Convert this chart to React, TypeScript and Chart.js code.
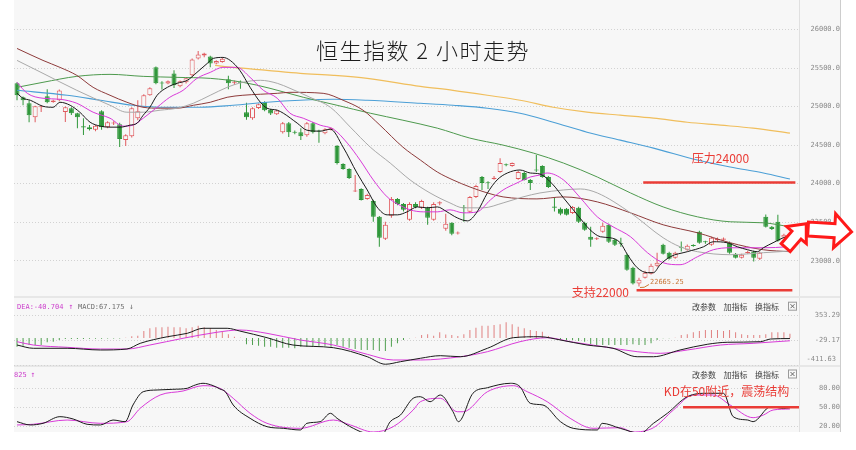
import React, { useEffect, useRef } from 'react';
import { Chart, registerables } from 'chart.js';

Chart.register(...registerables);

// ---------------- data ----------------
const OPEN = [25302,25121,25043,24862,24990,25134,25060,25082,24930,24979,
24914,24745,24733,24700,24940,24733,24782,24772,24565,24616,
24849,24991,25147,25509,25312,25300,25430,25263,25315,25405,
25625,25664,25651,25560,25580,25354,25308,25322,24927,24849,
24980,25060,24960,24900,24668,24785,24674,24668,24629,24785,
24686,24655,24700,24487,24254,24190,23898,23931,23802,23776,
23569,23285,23582,23802,23737,23530,23737,23686,23686,23530,
23743,23414,23492,23353,23692,23634,23828,24086,24017,24060,
24151,24252,24229,24060,24138,24048,24182,24229,24086,23702,
23673,23673,23620,23686,23492,23311,23278,23375,23466,23272,
23227,23078,22910,22703,22780,22832,22936,23207,23104,23039,
23182,23142,23202,23375,23252,23207,23265,23272,23233,23091,
23039,23100,23117,23026,23569,23440,23505,23300,23207];
const HIGH = [25315,25130,25082,25010,25010,25224,25090,25220,25000,24990,
24920,24850,24760,24760,24953,24810,24810,24790,24640,24990,
25082,25160,25250,25520,25330,25340,25470,25340,25380,25625,
25720,25700,25660,25600,25630,25400,25340,25340,25050,24990,
25040,25070,24970,24960,24800,24800,24690,24720,24800,24800,
24700,24720,24730,24500,24265,24200,24112,23940,23870,23790,
23580,23505,23828,23815,23750,23760,23760,23790,23700,23760,
23770,23608,23500,23380,23724,23840,23985,24100,24030,24100,
24330,24260,24275,24165,24150,24060,24371,24240,24100,23815,
23690,23685,23710,23700,23505,23440,23305,23492,23480,23285,
23298,23091,22923,22780,22870,22960,23104,23220,23115,23115,
23250,23210,23215,23390,23260,23310,23300,23300,23250,23100,
23090,23130,23130,23117,23600,23450,23595,23350,23280];
const LOW = [25082,25017,24797,24797,24930,25043,25050,25070,24800,24890,
24720,24630,24690,24680,24700,24720,24760,24474,24487,24600,
24823,24980,25140,25290,25220,25290,25240,25250,25300,25390,
25610,25640,25509,25550,25570,25224,25280,25230,24830,24830,
24970,24940,24890,24890,24650,24604,24640,24565,24610,24650,
24530,24640,24690,24250,24180,24060,23890,23780,23790,23505,
23181,23270,23556,23720,23640,23520,23680,23670,23466,23520,
23720,23390,23330,23340,23505,23620,23815,23918,23930,24050,
24140,24225,24220,24050,24040,23918,24150,24075,23945,23640,
23590,23585,23605,23490,23390,23181,23270,23362,23230,23190,
23181,22870,22690,22665.25,22770,22820,22920,23080,23015,23025,
23120,23130,23180,23220,23220,23195,23250,23255,23090,23030,
23030,23090,22990,23010,23430,23400,23246,23290,23190];
const CLOSE = [25147,25082,24888,25004,25000,25056,25080,25210,24990,24914,
24862,24730,24707,24750,24733,24797,24795,24578,24629,24979,
24940,25147,25237,25302,25300,25330,25276,25328,25366,25612,
25677,25690,25560,25590,25620,25302,25322,25308,24862,24979,
25030,24953,24910,24950,24785,24668,24662,24616,24785,24668,
24676,24707,24720,24267,24190,24073,23912,23789,23854,23569,
23298,23466,23802,23737,23660,23737,23698,23776,23556,23737,
23757,23479,23349,23367,23680,23828,23970,24009,24005,24078,
24267,24238,24267,24151,24048,24009,24170,24086,23957,23688,
23608,23595,23698,23505,23401,23272,23292,23453,23246,23207,
23215,22884,22703,22754,22845,22936,22974,23091,23026,23104,
23168,23194,23190,23233,23240,23298,23282,23287,23104,23039,
23078,23112,23039,23104,23440,23410,23259,23336,23259];

// moving averages: [candle index, value]
const MA5: [number, number][] = [[0,25172],[1,25108],[2.2,25082],[4.3,25004],[6,24991],[7.1,25056],[8.8,25017],[10.4,24927],[12.1,24797],[13.8,24746],[15.4,24733],[17.1,24733],[18.7,24759],[19.9,24785],[20.9,24888],[22,24991],[23.2,25147],[24.9,25250],[26.5,25302],[28.2,25341],[29.8,25444],[31.5,25560],[32.5,25625],[34.1,25638],[35.3,25599],[36.9,25470],[38.6,25250],[40.3,25056],[41.4,24979],[43.1,24953],[44.1,24914],[46.4,24785],[48,24694],[50.2,24681],[51.9,24707],[54,24474],[56.3,24138],[58,23918],[59.6,23698],[61.3,23595],[63,23595],[64.6,23634],[66.3,23698],[67.9,23686],[69.6,23698],[71.2,23634],[72.9,23556],[74.6,23517],[76.2,23634],[77.9,23879],[79.5,24048],[81.2,24138],[83.3,24177],[85,24138],[86.6,24125],[88.8,23983],[90.5,23815],[92.8,23595],[94.9,23401],[96.6,23311],[98.2,23298],[99.9,23233],[101.1,23078],[102.7,22910],[104.4,22845],[105.4,22845],[106.5,22948],[108.2,23052],[111,23117],[113.7,23181],[115.3,23246],[117.6,23233],[119.3,23181],[121,23142],[122.6,23117],[123.6,23168],[125.2,23233],[126.9,23298],[128,23323]];
const MA10: [number, number][] = [[0,25315],[1.7,25172],[4.3,25108],[7.1,25095],[9.9,25043],[12.6,24927],[15.4,24849],[17.6,24746],[19.2,24759],[20.9,24849],[23.2,24991],[25.3,25121],[27.5,25211],[29.8,25366],[32,25444],[34.1,25509],[36.4,25509],[38.6,25379],[40.8,25211],[43.1,25108],[45.2,24914],[47.4,24849],[50.2,24759],[52.4,24707],[54.7,24526],[56.8,24306],[59,24048],[61.3,23828],[63,23737],[65.1,23660],[67.3,23634],[69.6,23634],[71.7,23660],[73.9,23621],[76.2,23634],[78.4,23789],[80.5,23918],[82.8,24009],[85,24086],[86.6,24112],[87.8,24138],[90.5,24048],[93.3,23815],[96.1,23569],[98.7,23440],[101.6,23311],[104.4,23104],[107,22974],[109.8,22948],[112.7,23052],[115.3,23142],[118.1,23168],[123.6,23168],[127.6,23181],[128,23185]];
const MA20: [number, number][] = [[0,25599],[4.3,25431],[9.9,25211],[15.4,25017],[18.2,24927],[20.9,24927],[23.7,24953],[26.5,24979],[29.2,25043],[32,25147],[34.8,25250],[37.4,25315],[40.3,25341],[43.1,25302],[45.2,25237],[48.5,25121],[51.9,24991],[55.2,24733],[58.5,24474],[61.8,24267],[65.1,24048],[68.4,23879],[71.7,23750],[73.9,23686],[77.2,23686],[80.5,23750],[83.8,23828],[86.6,23879],[90.5,23918],[93.3,23931],[96.1,23879],[101.6,23621],[107,23298],[109.8,23181],[112.7,23117],[118.1,23078],[123.6,23104],[128,23125]];
const MA30: [number, number][] = [[0,25754],[4.3,25599],[7.1,25509],[9.9,25405],[12.6,25250],[15.4,25147],[18.2,25056],[20.9,24991],[23.7,24979],[26.5,24979],[29.2,25017],[32,25056],[34.8,25121],[37.4,25147],[40.3,25160],[43.1,25172],[45.2,25185],[50.7,25172],[54,25082],[57.3,24953],[60.1,24759],[63.9,24474],[66.8,24306],[69.6,24151],[72.2,24048],[75,23957],[77.9,23879],[80.5,23828],[86.1,23802],[90.5,23828],[96.1,23763],[101.6,23621],[107,23466],[112.7,23362],[118.1,23233],[123.6,23142],[128,23117]];
const MA60: [number, number][] = [[0,25250],[4.3,25315],[9.9,25392],[15.4,25418],[20.9,25392],[26.5,25379],[32,25366],[37.4,25315],[41.9,25237],[47.4,25121],[53,25017],[58.5,24914],[63.9,24823],[69.6,24720],[75,24591],[80.5,24500],[85.5,24397],[90.5,24267],[96.1,24086],[101.6,23879],[107,23698],[112.7,23569],[118.1,23505],[123.6,23492],[128,23440]];
const MA120: [number, number][] = [[0,25211],[8.3,25147],[13.8,25082],[19.2,25017],[24.9,24991],[30.3,24991],[35.8,25017],[41.4,25056],[46.9,25082],[52.4,25095],[58,25082],[66.8,25043],[72.2,25017],[77.9,24979],[83.3,24914],[88.8,24797],[94.4,24668],[99.9,24565],[105.4,24461],[112.7,24306],[118.1,24216],[123.6,24138],[128,24060]];
const MA250: [number, number][] = [[32.8,25535],[35.8,25509],[41.4,25470],[46.9,25431],[52.4,25405],[58,25366],[66.8,25263],[72.2,25211],[77.9,25147],[83.3,25082],[88.8,24991],[94.4,24927],[99.9,24888],[105.4,24849],[111,24797],[116.5,24759],[121.9,24720],[128,24655]];

const MACD_HIST = [
-131,-116,-106,-106,-106,-64,-55,-29,-14,-14,
-14,-14,-10,-10,-10,-8,-8,-6,5,30,
37,108,150,165,165,175,165,165,150,165,
190,165,150,124,108,58,20,5,-95,-106,
-116,-131,-131,-147,-147,-147,-157,-131,-131,-131,
-116,-116,-131,-106,-131,-147,-167,-182,-182,-182,
-197,-197,-131,-80,-29,-4,6,47,58,37,
89,55,47,33,58,124,160,190,190,200,
211,242,211,175,150,124,108,98,33,-4,
-29,-29,-29,-44,-55,-95,-106,-106,-106,-106,
-106,-106,-95,-106,-106,-80,-29,-4,-4,6,
47,58,89,108,124,124,124,108,124,89,
58,47,47,47,58,89,89,89,67];
const DIF: [number, number][] = [[0,-106],[2.7,-156],[8.3,-156],[13.8,-182],[18.2,-167],[20.4,-80],[24.9,21],[28.2,73],[30.8,150],[34.8,150],[36.9,108],[41.4,6],[45.7,-106],[52.4,-147],[58,-285],[61,-400],[63.5,-361],[66.8,-309],[70.1,-269],[73.4,-285],[77.9,-156],[82.2,6],[86.6,21],[90,-29],[94.4,-106],[98.7,-156],[102.7,-285],[105.4,-285],[109.8,-182],[114.3,-95],[117.6,-64],[123.1,-55],[124.8,-14],[128,-7]];
const DEA: [number, number][] = [[0,-55],[2.7,-106],[8.3,-141],[13.8,-167],[18.2,-167],[22,-106],[27.5,-3],[33.1,89],[36.9,124],[41.4,73],[46.9,-29],[52.4,-106],[58,-248],[62.3,-335],[66.8,-335],[73.4,-285],[77.9,-208],[83.3,-55],[87.8,6],[91.6,-55],[97.1,-132],[102.7,-208],[106.5,-233],[111,-182],[116.5,-106],[121.9,-80],[128,-41]];
const K_LINE: [number, number][] = [[0,27.3],[2.2,22.1],[4.3,24.7],[7.1,35.2],[9.3,31.5],[11.6,23.2],[13.8,22.1],[15.9,29.9],[17.9,27.3],[19.2,53.6],[20.9,74.6],[23.2,77.3],[25.8,78.4],[28.2,80],[29.2,84.1],[30.8,87.9],[32.5,84.1],[33.6,78.9],[34.5,74.6],[35.8,53.6],[38.6,32.6],[41.4,19.4],[44.1,16.8],[46.9,14.2],[48,24.7],[50.2,27.3],[51.9,40.5],[53,32.6],[55.7,16.8],[58,9],[60.6,9],[61.8,27.3],[63.5,37.8],[65.6,64.2],[66.8,66.7],[68.4,58.8],[70.1,69.4],[72.2,43],[73.1,27.3],[75.5,72.1],[77.9,80.9],[81.7,87.9],[83.3,82.5],[85,56.3],[87.1,53.6],[90,27.3],[92.1,16.8],[96.1,14.2],[96.9,24.7],[99.9,16.8],[103.2,9],[105.4,24.7],[107.7,40.5],[111,66.7],[114.3,72.1],[117,72.1],[118.6,35.2],[121,29.9],[121.9,27.3],[124.8,50.9],[126.9,48.4],[128,49.4]];
const D_LINE: [number, number][] = [[0,22.1],[2.7,23.2],[8.3,29.9],[13.8,24.7],[18.2,27.3],[20.4,48.4],[23.7,69.4],[27.5,75.7],[30.8,84.1],[33.6,80],[35.8,64.2],[38.6,40.5],[41.4,24.7],[46.9,16.8],[52.4,29.9],[55.2,22.1],[59,11],[62.3,19.4],[65.6,45.7],[66.8,58.8],[70.1,64.2],[72.9,43],[73.9,43],[77.9,74.6],[82.2,84.1],[84.5,74.6],[87.8,58.8],[91.6,32.6],[95.4,16.8],[99.9,17.8],[102,11],[105.4,17.8],[108.7,45.7],[112,69.4],[115.3,69.4],[118.1,53.6],[121.9,33.6],[123.6,37.8],[125.2,45.7],[128,47.3]];

const PRICE_TICKS = [23000, 23500, 24000, 24500, 25000, 25500, 26000];
const MACD_TICKS = [353.29, -29.17, -411.63];
const KD_TICKS = [80, 50, 20];

const RESIST_LEVEL = 24015;
const SUPPORT_LEVEL = 22616;
const KD_LEVEL = 50;
const LOW_INDEX = 103;
const LOW_VALUE = 22665.25;

const TITLE = '恒生指数 2 小时走势';
const RESIST_TEXT = '压力24000';
const SUPPORT_TEXT = '支持22000';
const KD_NOTE = 'KD在50附近，震荡结构';
const DEA_TEXT = 'DEA:-40.704';
const MACD_TEXT = 'MACD:67.175';
const KD_HEAD = '825';
const MENU = ['改参数', '加指标', '换指标'];

// ---------------- styles ----------------
const BG = '#f7f7f7';
const SEP = '#e7e7e7';
const GRID = '#d2d2d2';
const TICK_COLOR = '#8a8a8a';
const UP = '#e05a5e';
const DOWN = '#2f973a';
const HIST_UP = '#e08080';
const HIST_DOWN = '#4f9f4f';
const NOTE_RED = '#ea3c36';
const ARROW_RED = '#ff1a1a';
const MAGENTA = '#cc3fcc';
const CJK = '"Noto Sans CJK SC", "Noto Sans", sans-serif';
const MONO = '"DejaVu Sans Mono", "Liberation Mono", monospace';
const TICK_SIZE = 7;
const AXIS_W = 41;
const LABEL_RIGHT = 37;

function labelPad(labels: string[]) {
  const c = document.createElement('canvas').getContext('2d') as CanvasRenderingContext2D;
  c.font = `normal ${TICK_SIZE}px ${MONO}`;
  const w = Math.max(...labels.map((l) => c.measureText(l).width));
  return LABEL_RIGHT - w;
}

function xAxis() {
  return { type: 'linear', min: -0.5, max: CLOSE.length + 0.5, offset: false, display: false, grid: { display: false } };
}

function yAxis(min: number, max: number, ticks: number[], fmt: (v: number) => string) {
  const pad = labelPad(ticks.map(fmt).filter((s) => s));
  return {
    type: 'linear', position: 'right', min, max, bounds: 'data',
    afterBuildTicks: (s: any) => { s.ticks = ticks.map((v) => ({ value: v })); },
    afterFit: (s: any) => { s.width = AXIS_W; s.paddingTop = 0; s.paddingBottom = 0; },
    grid: { color: GRID, lineWidth: 1, drawTicks: false },
    border: { display: false, dash: [1, 2] },
    ticks: { autoSkip: false, crossAlign: 'far', padding: pad, color: TICK_COLOR, font: { family: MONO, size: TICK_SIZE }, callback: (v: any) => fmt(Number(v)) },
  };
}

const line = (pairs: [number, number][], color: string, order: number, width = 1) => ({
  type: 'line', data: pairs.map(([x, y]) => ({ x, y })), borderColor: color, borderWidth: width,
  pointRadius: 0, pointHoverRadius: 0, fill: false, cubicInterpolationMode: 'monotone', order,
});

function vline(ctx: CanvasRenderingContext2D, x: number, y0: number, y1: number, color: string) {
  ctx.strokeStyle = color; ctx.lineWidth = 1; ctx.setLineDash([]);
  ctx.beginPath(); ctx.moveTo(x, y0); ctx.lineTo(x, y1); ctx.stroke();
}
function hline(ctx: CanvasRenderingContext2D, x0: number, x1: number, y: number, color: string, w: number) {
  ctx.strokeStyle = color; ctx.lineWidth = w; ctx.setLineDash([]);
  ctx.beginPath(); ctx.moveTo(x0, y); ctx.lineTo(x1, y); ctx.stroke();
}
function drawArrow(ctx: CanvasRenderingContext2D, x0: number, y0: number, x1: number, y1: number, shaftW: number, headW: number, headL: number) {
  const dx = x1 - x0, dy = y1 - y0, L = Math.hypot(dx, dy);
  const ux = dx / L, uy = dy / L, nx = -uy, ny = ux;
  const bx = x1 - ux * headL, by = y1 - uy * headL;
  const pts = [
    [x0 + nx * shaftW / 2, y0 + ny * shaftW / 2],
    [bx + nx * shaftW / 2, by + ny * shaftW / 2],
    [bx + nx * headW / 2, by + ny * headW / 2],
    [x1, y1],
    [bx - nx * headW / 2, by - ny * headW / 2],
    [bx - nx * shaftW / 2, by - ny * shaftW / 2],
    [x0 - nx * shaftW / 2, y0 - ny * shaftW / 2],
  ];
  ctx.beginPath();
  pts.forEach(([px, py], i) => (i ? ctx.lineTo(px, py) : ctx.moveTo(px, py)));
  ctx.closePath();
  ctx.fillStyle = '#ffffff'; ctx.fill();
  ctx.lineWidth = 3; ctx.lineJoin = 'miter'; ctx.strokeStyle = ARROW_RED; ctx.setLineDash([]); ctx.stroke();
}
function panelBackground(chart: any, bottom: number) {
  const { ctx, chartArea: a } = chart;
  const right = chart.scales.y.right;
  ctx.save();
  ctx.fillStyle = BG;
  ctx.fillRect(a.left, 0, right - a.left, bottom);
  vline(ctx, a.right + 0.5, 0, bottom, '#e0e0e0');
  vline(ctx, right + 0.5, 0, bottom, '#cdcdcd');
  ctx.restore();
}
function menu(ctx: CanvasRenderingContext2D, cy: number) {
  ctx.font = `8px ${CJK}`; ctx.fillStyle = '#444'; ctx.textAlign = 'left'; ctx.textBaseline = 'middle';
  const xs = [692, 723.5, 755];
  MENU.forEach((m, i) => ctx.fillText(m, xs[i], cy));
  ctx.strokeStyle = '#9a9a9a'; ctx.lineWidth = 1;
  ctx.strokeRect(788.5, cy - 4.5, 8, 8);
  ctx.strokeStyle = '#666';
  ctx.beginPath();
  ctx.moveTo(790.5, cy - 2.5); ctx.lineTo(794.5, cy + 1.5);
  ctx.moveTo(794.5, cy - 2.5); ctx.lineTo(790.5, cy + 1.5);
  ctx.stroke();
}

const commonOpts = {
  responsive: false, animation: false, devicePixelRatio: 1, events: [],
  plugins: { legend: { display: false }, tooltip: { enabled: false } },
};

function mainConfig(): any {
  const up = CLOSE.map((c, i) => c >= OPEN[i]);
  const wicks = CLOSE.map((_, i) => ({ x: i, y: [LOW[i], HIGH[i]] }));
  const bodies = CLOSE.map((c, i) => ({ x: i, y: [Math.min(OPEN[i], c), Math.max(OPEN[i], c)] }));
  const plugin = {
    id: 'mainDeco',
    beforeDraw(chart: any) {
      panelBackground(chart, chart.height);
      const { ctx, chartArea: a } = chart;
      ctx.save();
      ctx.fillStyle = SEP;
      ctx.fillRect(a.left, a.bottom, chart.scales.y.right - a.left, chart.height - a.bottom);
      ctx.restore();
    },
    afterDatasetsDraw(chart: any) {
      const { ctx } = chart; const x = chart.scales.x; const y = chart.scales.y;
      ctx.save();
      hline(ctx, x.getPixelForValue(103.7), x.getPixelForValue(128.9), y.getPixelForValue(RESIST_LEVEL), NOTE_RED, 2.5);
      hline(ctx, x.getPixelForValue(102.6), x.getPixelForValue(128.4), y.getPixelForValue(SUPPORT_LEVEL), NOTE_RED, 2.5);
      ctx.font = `12px ${CJK}`; ctx.fillStyle = NOTE_RED; ctx.textAlign = 'center'; ctx.textBaseline = 'middle';
      ctx.fillText(RESIST_TEXT, x.getPixelForValue(116.5), y.getPixelForValue(24330));
      ctx.fillText(SUPPORT_TEXT, x.getPixelForValue(96.6), y.getPixelForValue(22590));
      const lx = x.getPixelForValue(LOW_INDEX), ly = y.getPixelForValue(LOW_VALUE);
      ctx.strokeStyle = '#cf7b32'; ctx.lineWidth = 1;
      ctx.beginPath(); ctx.moveTo(lx + 1, ly + 1); ctx.quadraticCurveTo(lx + 5, ly + 2, lx + 10, ly - 2); ctx.stroke();
      ctx.font = `7px ${MONO}`; ctx.fillStyle = '#c8783a'; ctx.textAlign = 'left';
      ctx.fillText(LOW_VALUE.toFixed(2), lx + 11, ly - 4.5);
      ctx.restore();
    },
    afterDraw(chart: any) {
      const { ctx } = chart; const x = chart.scales.x; const y = chart.scales.y;
      ctx.save();
      drawArrow(ctx, x.getPixelForValue(127.3), y.getPixelForValue(23170), x.getPixelForValue(130.7), y.getPixelForValue(23480), 12, 26, 15);
      drawArrow(ctx, x.getPixelForValue(131), y.getPixelForValue(23410), x.getPixelForValue(138.2), y.getPixelForValue(23375), 14, 34, 17);
      ctx.font = `300 22px ${CJK}`; ctx.fillStyle = '#1c1c1c'; ctx.textAlign = 'center'; ctx.textBaseline = 'middle';
      (ctx as any).letterSpacing = '1.5px';
      ctx.fillText(TITLE, 423, 51);
      (ctx as any).letterSpacing = '0px';
      ctx.restore();
    },
  };
  return {
    type: 'bar',
    data: {
      datasets: [
        { type: 'bar', data: wicks, backgroundColor: up.map((u) => (u ? UP : DOWN)), borderWidth: 0, barThickness: 1, grouped: false, inflateAmount: 0, order: 9 },
        { type: 'bar', data: bodies, backgroundColor: up.map((u) => (u ? BG : DOWN)), borderColor: up.map((u) => (u ? UP : DOWN)), borderWidth: 1, borderSkipped: false, barThickness: 5, grouped: false, inflateAmount: 0, minBarLength: 1, order: 8 },
        line(MA250, '#f0be5c', 7, 1.2),
        line(MA120, '#4b9fd6', 6, 1.1),
        line(MA60, '#4e9a4e', 5),
        line(MA30, '#8e3b3b', 4),
        line(MA20, '#a9a9a9', 3),
        line(MA10, '#d93ad9', 2),
        line(MA5, '#1a1a1a', 1),
      ],
    },
    options: {
      ...commonOpts,
      layout: { padding: { left: 14, right: 16, top: 0, bottom: 2 }, autoPadding: false },
      scales: { x: xAxis(), y: yAxis(22542, 26383, PRICE_TICKS, (v) => v.toFixed(1)) },
    },
    plugins: [plugin],
  };
}

function macdConfig(): any {
  const plugin = {
    id: 'macdDeco',
    beforeDraw(chart: any) {
      panelBackground(chart, chart.height);
      const { ctx, chartArea: a } = chart;
      ctx.save();
      ctx.fillStyle = SEP;
      ctx.fillRect(a.left, a.bottom, chart.scales.y.right - a.left, chart.height - a.bottom);
      ctx.restore();
    },
    afterDraw(chart: any) {
      const { ctx, chartArea: a } = chart;
      ctx.save();
      ctx.textBaseline = 'middle'; ctx.textAlign = 'left';
      ctx.font = `7px ${MONO}`;
      ctx.fillStyle = MAGENTA; ctx.fillText(DEA_TEXT, 17, 8.7);
      ctx.font = `8px ${MONO}`; ctx.fillText('↑', 68.5, 8.7);
      ctx.font = `7px ${MONO}`; ctx.fillStyle = '#6e6e6e'; ctx.fillText(MACD_TEXT, 78, 8.7);
      ctx.font = `8px ${MONO}`; ctx.fillText('↓', 129, 8.7);
      menu(ctx, 8.7);
      ctx.font = `${TICK_SIZE}px ${MONO}`; ctx.fillStyle = TICK_COLOR; ctx.textAlign = 'right';
      ctx.fillText(MACD_TICKS[2].toFixed(2), a.right + LABEL_RIGHT, a.bottom - 5.7);
      ctx.restore();
    },
  };
  return {
    type: 'bar',
    data: {
      datasets: [
        { type: 'bar', data: MACD_HIST.map((h, i) => ({ x: i, y: h })), backgroundColor: MACD_HIST.map((h) => (h >= 0 ? HIST_UP : HIST_DOWN)), borderWidth: 0, barThickness: 1, inflateAmount: 0, order: 5 },
        line(DEA, '#d93ad9', 2),
        line(DIF, '#1a1a1a', 1),
      ],
    },
    options: {
      ...commonOpts,
      layout: { padding: { left: 14, right: 16, top: 0, bottom: 2 }, autoPadding: false },
      scales: { x: xAxis(), y: yAxis(-411.63, 613.4, MACD_TICKS, (v) => (v === MACD_TICKS[2] ? '' : v.toFixed(2))) },
    },
    plugins: [plugin],
  };
}

function kdConfig(): any {
  const plugin = {
    id: 'kdDeco',
    beforeDraw(chart: any) { panelBackground(chart, chart.chartArea.bottom); },
    afterDatasetsDraw(chart: any) {
      const { ctx, chartArea: a } = chart; const x = chart.scales.x; const y = chart.scales.y;
      ctx.save();
      hline(ctx, x.getPixelForValue(110.3), a.right, y.getPixelForValue(KD_LEVEL), NOTE_RED, 2.5);
      ctx.font = `12px ${CJK}`; ctx.fillStyle = NOTE_RED; ctx.textAlign = 'center'; ctx.textBaseline = 'middle';
      ctx.fillText(KD_NOTE, x.getPixelForValue(117.5), y.getPixelForValue(75.7));
      ctx.restore();
    },
    afterDraw(chart: any) {
      const { ctx } = chart;
      ctx.save();
      ctx.textBaseline = 'middle'; ctx.textAlign = 'left'; ctx.fillStyle = MAGENTA;
      ctx.font = `7px ${MONO}`; ctx.fillText(KD_HEAD, 14, 8);
      ctx.font = `8px ${MONO}`; ctx.fillText('↑', 30.5, 8);
      menu(ctx, 7.5);
      ctx.restore();
    },
  };
  return {
    type: 'line',
    data: { datasets: [line(D_LINE, '#d93ad9', 2), line(K_LINE, '#1a1a1a', 1)] },
    options: {
      ...commonOpts,
      layout: { padding: { left: 14, right: 16, top: 0, bottom: 18 }, autoPadding: false },
      scales: { x: xAxis(), y: yAxis(11, 113.6, KD_TICKS, (v) => v.toFixed(2)) },
    },
    plugins: [plugin],
  };
}

export default function App() {
  const mainRef = useRef<HTMLCanvasElement>(null);
  const macdRef = useRef<HTMLCanvasElement>(null);
  const kdRef = useRef<HTMLCanvasElement>(null);

  useEffect(() => {
    const charts = [
      new Chart(mainRef.current as HTMLCanvasElement, mainConfig()),
      new Chart(macdRef.current as HTMLCanvasElement, macdConfig()),
      new Chart(kdRef.current as HTMLCanvasElement, kdConfig()),
    ];
    return () => charts.forEach((c) => c.destroy());
  }, []);

  const cs = (top: number, h: number): React.CSSProperties => ({ position: 'absolute', left: 0, top, width: 856, height: h, display: 'block' });
  return (
    <div style={{ position: 'absolute', left: 0, top: 0, width: 856, height: 450, background: '#ffffff', overflow: 'hidden' }}>
      <canvas ref={mainRef} width={856} height={298} style={cs(0, 298)} />
      <canvas ref={macdRef} width={856} height={69} style={cs(298, 69)} />
      <canvas ref={kdRef} width={856} height={83} style={cs(367, 83)} />
    </div>
  );
}
